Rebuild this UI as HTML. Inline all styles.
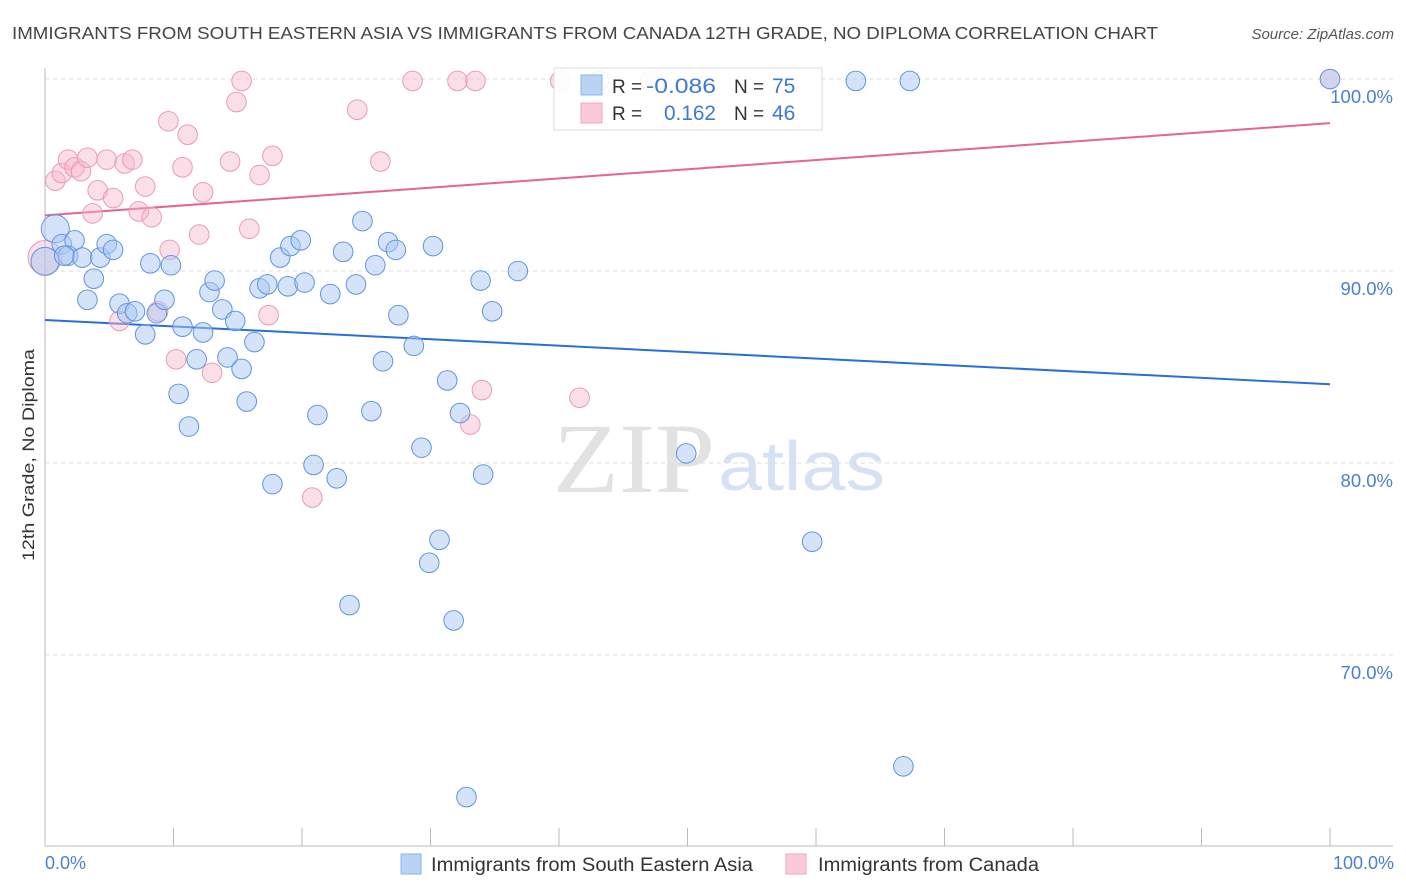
<!DOCTYPE html>
<html><head><meta charset="utf-8"><style>
body{margin:0;background:#fff;font-family:"Liberation Sans",sans-serif;}
svg{display:block}
</style></head><body>
<svg id="chart" width="1406" height="892" viewBox="0 0 1406 892" xmlns="http://www.w3.org/2000/svg">
<text x="12" y="39" font-size="17.5" fill="#444" textLength="1146" lengthAdjust="spacingAndGlyphs">IMMIGRANTS FROM SOUTH EASTERN ASIA VS IMMIGRANTS FROM CANADA 12TH GRADE, NO DIPLOMA CORRELATION CHART</text>
<text x="1394" y="39" font-size="15" fill="#555" font-style="italic" text-anchor="end">Source: ZipAtlas.com</text>
<text x="553" y="492" font-size="100" fill="#e2e2e2" font-family="Liberation Serif,serif" textLength="162" lengthAdjust="spacingAndGlyphs">ZIP</text>
<text x="718" y="490" font-size="70" fill="#d6e2f4" textLength="167" lengthAdjust="spacingAndGlyphs">atlas</text>
<g id="grid"></g>
<g id="axes"></g>
<g id="lines"></g>
<g id="pts"></g>
<text transform="translate(34,455) rotate(-90)" font-size="17" fill="#333" text-anchor="middle" textLength="212" lengthAdjust="spacingAndGlyphs">12th Grade, No Diploma</text>
<text x="45" y="869" font-size="18" fill="#4a7fd4">0.0%</text>
<text x="1394" y="869" font-size="18" fill="#4a7fd4" text-anchor="end">100.0%</text>
<g>
<rect x="401" y="854" width="20" height="20" fill="#b9d3f5" stroke="#8fb4ea"/>
<text x="431" y="871" font-size="19" fill="#333" textLength="322" lengthAdjust="spacingAndGlyphs">Immigrants from South Eastern Asia</text>
<rect x="786" y="854" width="20" height="20" fill="#fbcad8" stroke="#f0a5bb"/>
<text x="818" y="871" font-size="19" fill="#333" textLength="221" lengthAdjust="spacingAndGlyphs">Immigrants from Canada</text>
</g>
<g>
<rect x="554" y="68" width="268" height="62" fill="#fff" fill-opacity="0.9" stroke="#ddd"/>
<rect x="581" y="75" width="21" height="20" fill="#b9d3f5" stroke="#8fb4ea"/>
<rect x="581" y="103" width="21" height="20" fill="#fbcad8" stroke="#f0a5bb"/>
<text x="612" y="93" font-size="19" fill="#333">R =</text>
<text x="716" y="93" font-size="21" fill="#3d78d6" text-anchor="end" textLength="70" lengthAdjust="spacingAndGlyphs">-0.086</text>
<text x="734" y="93" font-size="19" fill="#333">N =</text>
<text x="772" y="93" font-size="21" fill="#3d78d6">75</text>
<text x="612" y="120" font-size="19" fill="#333">R =</text>
<text x="716" y="120" font-size="21" fill="#3d78d6" text-anchor="end" textLength="52" lengthAdjust="spacingAndGlyphs">0.162</text>
<text x="734" y="120" font-size="19" fill="#333">N =</text>
<text x="772" y="120" font-size="21" fill="#3d78d6">46</text>
</g>
</svg>
<script>
const blueX=[0.8,1.3,2.3,1.8,2.9,4.3,4.8,5.3,3.8,3.3,5.8,6.4,7.0,7.8,8.2,8.7,9.3,9.8,10.7,10.4,11.2,11.8,12.3,12.8,13.2,13.8,14.2,14.8,15.3,15.7,16.3,16.7,17.3,17.7,18.3,18.9,19.1,19.9,20.2,21.2,20.9,22.2,22.7,23.2,23.7,24.2,24.7,25.4,25.7,26.3,26.7,27.3,27.5,28.7,29.3,29.9,30.2,30.7,31.3,31.8,32.3,32.8,33.9,34.1,34.8,36.8,43.1,49.9,59.7,63.1,66.8,67.3,100,0.0,1.5];
const blueY=[92.2,91.4,91.6,90.8,90.7,90.7,91.4,91.1,89.6,88.5,88.3,87.8,87.9,86.7,90.4,87.8,88.5,90.3,87.1,83.6,81.9,85.4,86.8,88.9,89.5,88.0,85.5,87.4,84.9,83.2,86.3,89.1,89.3,78.9,90.7,89.2,91.3,91.6,89.4,82.5,79.9,88.8,79.2,91.0,72.6,89.3,92.6,82.7,90.3,85.3,91.5,91.1,87.7,86.1,80.8,74.8,91.3,76.0,84.3,71.8,82.6,62.6,89.5,79.4,87.9,90.0,99.9,80.5,75.9,99.9,64.2,99.9,100,90.5,90.8];
const pinkX=[0,0.8,1.3,1.8,2.3,2.8,3.3,3.7,4.1,4.8,5.3,5.8,6.2,6.8,7.3,7.8,8.3,8.8,9.6,9.7,10.2,10.7,11.1,12.0,12.3,13.0,14.4,14.9,15.3,15.9,16.7,17.4,17.7,20.8,24.3,26.1,28.6,32.1,33.5,33.1,34.0,40.1,41.6,47.1,100];
const pinkY=[90.7,94.7,95.1,95.8,95.4,95.2,95.9,93.0,94.2,95.8,93.8,87.4,95.6,95.8,93.1,94.4,92.8,87.9,97.8,91.1,85.4,95.4,97.1,91.9,94.1,84.7,95.7,98.8,99.9,92.2,95.0,87.7,96.0,78.2,98.4,95.7,99.9,99.9,99.9,82.0,83.8,99.9,83.4,99.9,100];
const blueTrend=[87.45,84.1];
const pinkTrend=[92.9,97.7];
const yTicks=[100,90,80,70];
const yTickLabels=["100.0%","90.0%","80.0%","70.0%"];
const xTicks=[0,10,20,30,40,50,60,70,80,90,100];

const NS="http://www.w3.org/2000/svg";
const sx=v=>45+v*12.85;
const sy=v=>79+(100-v)*19.2;
function mk(parent,tag,attrs){const e=document.createElementNS(NS,tag);for(const k in attrs)e.setAttribute(k,attrs[k]);document.getElementById(parent).appendChild(e);return e;}
yTicks.forEach((t,i)=>{
  const l=mk('grid','line',{x1:45,x2:1393,y1:sy(t),y2:sy(t),stroke:'#ddd','stroke-dasharray':'4,4'});
  
  
  const tx=mk('grid','text',{x:1393,y:sy(t)+24,'font-size':18.5,fill:'#4a7fd4','text-anchor':'end'});
  tx.textContent=yTickLabels[i];
  
  
});
let a=mk('axes','line',{x1:45,x2:45,y1:68,y2:846,stroke:'#bbb'});


a=mk('axes','line',{x1:45,x2:1393,y1:846,y2:846,stroke:'#bbb'});


xTicks.forEach(t=>{
  const l=mk('axes','line',{x1:sx(t),x2:sx(t),y1:828,y2:846,stroke:'#bbb'});
  
  
});
let tl=mk('lines','line',{x1:sx(0),x2:sx(100),y1:sy(blueTrend[0]),y2:sy(blueTrend[1]),stroke:'#2a6fd6','stroke-width':2});


tl=mk('lines','line',{x1:sx(0),x2:sx(100),y1:sy(pinkTrend[0]),y2:sy(pinkTrend[1]),stroke:'#e8638f','stroke-width':2});


pinkX.forEach((x,i)=>{
  const c=mk('pts','circle',{cx:sx(x),cy:sy(pinkY[i]),r:i===0?17:9.8,fill:'#f7b8cb','fill-opacity':0.45,stroke:'#eb9ab3','stroke-width':1});
  
  
});
blueX.forEach((x,i)=>{
  const c=mk('pts','circle',{cx:sx(x),cy:sy(blueY[i]),r:(i===0||i===73)?14:9.8,fill:'#a9c8f2','fill-opacity':0.5,stroke:'#5f95e0','stroke-width':1});
  
  
});
</script>
</body></html>
